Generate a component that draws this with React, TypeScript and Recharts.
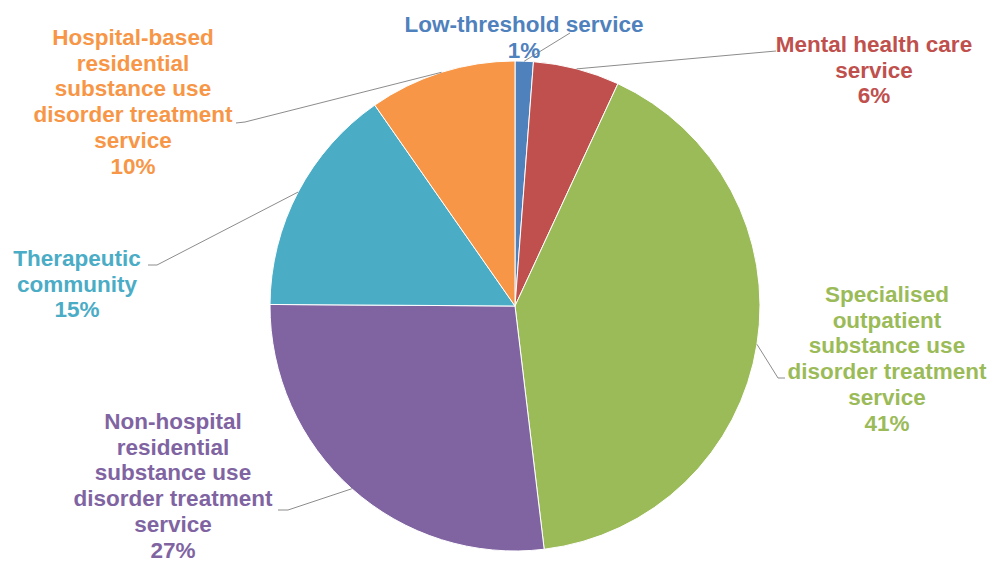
import React from 'react';
import { PieChart, Pie, Cell } from 'recharts';

// Share of treatment services (%), clockwise from 12 o'clock
const SERVICES = [
  'Low-threshold service',
  'Mental health care service',
  'Specialised outpatient substance use disorder treatment service',
  'Non-hospital residential substance use disorder treatment service',
  'Therapeutic community',
  'Hospital-based residential substance use disorder treatment service',
];
const SHARES = [1.2, 5.7, 41.2, 27, 15.2, 9.7];
const SHARE_LABELS = ['1%', '6%', '41%', '27%', '15%', '10%'];

// how each label is broken into lines
const LABEL_LINES = [
  ['Low-threshold service'],
  ['Mental health care', 'service'],
  ['Specialised', 'outpatient', 'substance use', 'disorder treatment', 'service'],
  ['Non-hospital', 'residential', 'substance use', 'disorder treatment', 'service'],
  ['Therapeutic', 'community'],
  ['Hospital-based', 'residential', 'substance use', 'disorder treatment', 'service'],
];

const COLORS = ['#4F81BD', '#C0504D', '#9BBB59', '#8064A2', '#4BACC6', '#F79646'];

// label placement: leader line kink/end and text block center (first baseline)
const LABEL_LAYOUT = [
  { kx: 570, ky: 33, ex: 570, ey: 33, tx: 524, ty: 32 },
  { kx: 776, ky: 51, ex: 776, ey: 51, tx: 874, ty: 52 },
  { kx: 778, ky: 378, ex: 785, ey: 378, tx: 887, ty: 302 },
  { kx: 288, ky: 510, ex: 278, ey: 510, tx: 173, ty: 429 },
  { kx: 157, ky: 265, ex: 148, ey: 265, tx: 77, ty: 266 },
  { kx: 245, ky: 122, ex: 236, ey: 123, tx: 133, ty: 45 },
];

const data = SERVICES.map((name, i) => ({ name, value: SHARES[i], pct: SHARE_LABELS[i] }));

const RAD = Math.PI / 180;
const LINE_H = 25.7;

function renderLabel(props: any) {
  const { cx, cy, midAngle, outerRadius, index } = props;
  const sx = cx + outerRadius * Math.cos(-midAngle * RAD);
  const sy = cy + outerRadius * Math.sin(-midAngle * RAD);
  const l = LABEL_LAYOUT[index];
  const lines = [...LABEL_LINES[index], data[index].pct];
  return (
    <g key={`lbl-${index}`}>
      <polyline
        points={`${sx},${sy} ${l.kx},${l.ky} ${l.ex},${l.ey}`}
        fill="none"
        stroke="#8c8c8c"
        strokeWidth={1}
      />
      <text
        x={l.tx}
        y={l.ty}
        textAnchor="middle"
        fill={COLORS[index]}
        fontSize={22.5}
        fontWeight="bold"
        fontFamily="'Liberation Sans', Arial, sans-serif"
      >
        {lines.map((t, j) => (
          <tspan key={j} x={l.tx} dy={j === 0 ? 0 : LINE_H}>
            {t}
          </tspan>
        ))}
      </text>
    </g>
  );
}

export default function App() {
  return (
    <div
      style={{
        position: 'absolute',
        left: 0,
        top: 0,
        width: 994,
        height: 562,
        overflow: 'hidden',
        background: '#fff',
      }}
    >
      <PieChart width={994} height={562} margin={{ top: 0, right: 0, bottom: 0, left: 0 }}>
        <Pie
          data={data}
          dataKey="value"
          nameKey="name"
          cx={515}
          cy={306}
          outerRadius={245}
          startAngle={90}
          endAngle={-270}
          stroke="#ffffff"
          strokeWidth={1}
          label={renderLabel}
          labelLine={false}
          isAnimationActive={false}
        >
          {data.map((d, i) => (
            <Cell key={`cell-${i}`} fill={COLORS[i]} />
          ))}
        </Pie>
      </PieChart>
    </div>
  );
}
